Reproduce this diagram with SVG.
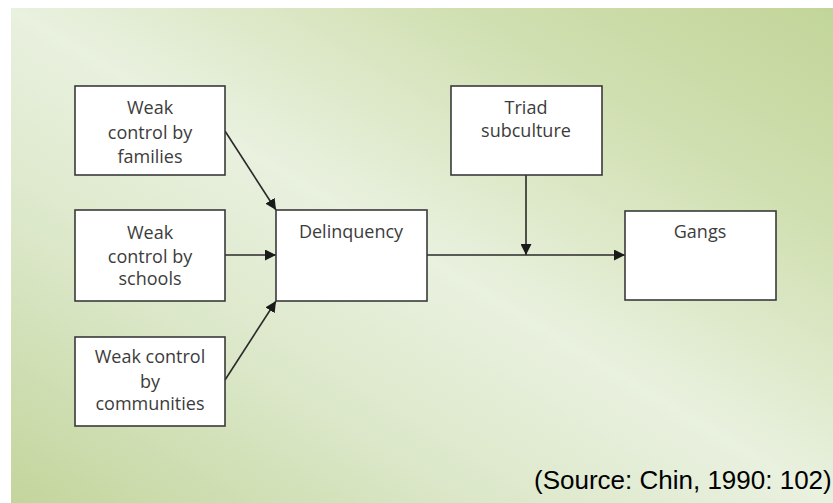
<svg xmlns="http://www.w3.org/2000/svg" width="833" height="503" viewBox="0 0 833 503">
<defs>
<linearGradient id="bg" x1="1" y1="0" x2="0" y2="1">
<stop offset="0" stop-color="#c2d599"/>
<stop offset="0.22" stop-color="#d0dfb0"/>
<stop offset="0.5" stop-color="#e9f1df"/>
<stop offset="0.72" stop-color="#dbe7c8"/>
<stop offset="1" stop-color="#c3d59c"/>
</linearGradient>
<marker id="ah" viewBox="0 0 10 10" refX="10" refY="5" markerWidth="11" markerHeight="11" markerUnits="userSpaceOnUse" orient="auto">
<path d="M0,0 L10,5 L0,10 z" fill="#1a1a1a"/>
</marker>
<style>
.box{fill:#ffffff;stroke:#3a3a3a;stroke-width:1.6}
.lbl{font-family:"Open Sans","DejaVu Sans",sans-serif;font-size:18px;fill:#3c3c3c;text-anchor:middle}
.con{stroke:#2a2a2a;stroke-width:1.6;fill:none;marker-end:url(#ah)}
.src{font-family:"Liberation Sans",Arial,sans-serif;font-size:26px;fill:#000000}
</style>
</defs>
<rect x="0" y="0" width="833" height="503" fill="#ffffff"/>
<rect x="11" y="8" width="822" height="495" fill="url(#bg)"/>
<g id="connectors">
<line class="con" x1="225" y1="131" x2="276" y2="210"/>
<line class="con" x1="225" y1="255" x2="276" y2="255"/>
<line class="con" x1="225" y1="380" x2="276" y2="301"/>
<line class="con" x1="427" y1="255" x2="625" y2="255"/>
<line class="con" x1="526" y1="175" x2="526" y2="255"/>
</g>
<g id="families">
<rect class="box" x="75" y="86" width="150" height="89"/>
<text class="lbl" x="150" y="114">Weak</text>
<text class="lbl" x="150" y="139">control by</text>
<text class="lbl" x="150" y="163">families</text>
</g>
<g id="schools">
<rect class="box" x="75" y="210" width="150" height="91"/>
<text class="lbl" x="150" y="239">Weak</text>
<text class="lbl" x="150" y="263">control by</text>
<text class="lbl" x="150" y="285">schools</text>
</g>
<g id="communities">
<rect class="box" x="75" y="337" width="150" height="89"/>
<text class="lbl" x="150" y="363">Weak control</text>
<text class="lbl" x="150" y="388">by</text>
<text class="lbl" x="150" y="410">communities</text>
</g>
<g id="delinquency">
<rect class="box" x="276" y="210" width="151" height="91"/>
<text class="lbl" x="351" y="238">Delinquency</text>
</g>
<g id="triad">
<rect class="box" x="451" y="86" width="151" height="89"/>
<text class="lbl" x="526" y="114">Triad</text>
<text class="lbl" x="526" y="137">subculture</text>
</g>
<g id="gangs">
<rect class="box" x="625" y="211" width="151" height="89"/>
<text class="lbl" x="700" y="238">Gangs</text>
</g>
<text class="src" x="534" y="489">(Source: Chin, 1990: 102)</text>
</svg>
